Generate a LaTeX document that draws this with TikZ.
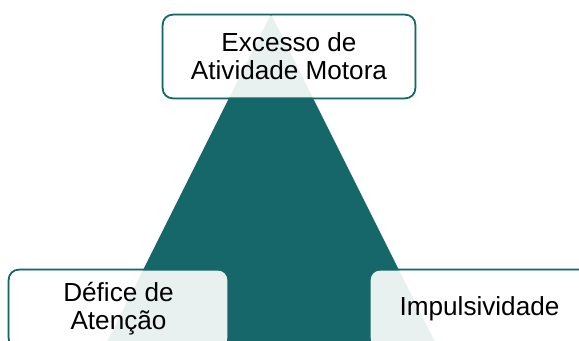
\documentclass[tikz,border=0pt]{standalone}
\usepackage{fontspec}
\setmainfont{Liberation Sans}

\definecolor{tealdark}{RGB}{21,103,106}

\pgfdeclarelayer{frame}
\pgfdeclarelayer{wedge}
\pgfdeclarelayer{veil}
\pgfsetlayers{frame,wedge,veil,main}

\begin{document}
\begin{tikzpicture}[x=0.75pt, y=-0.75pt,
% node style
box/.style={rectangle, inner sep=0pt, align=center, font=\fontsize{19.6}{21}\selectfont},
rim/.style={draw=tealdark, line width=1.5pt, rounded corners=7.5pt},
veil/.style={fill=white, fill opacity=0.9, rounded corners=6.75pt}
]

\useasboundingbox (0,0) rectangle (579,340);

% nodes
\node[box, minimum width=189pt, minimum height=62.25pt] (motora) at (289,56.5) {Excesso de\\Atividade Motora};
\node[box, minimum width=164.25pt, minimum height=58.5pt] (atencao) at (118.5,309) {Défice de\\Atenção};
\node[box, minimum width=164.25pt, minimum height=58.5pt] (impuls) at (479.5,309) {Impulsividade};

% box outlines (under the triangle)
\begin{pgfonlayer}{frame}
\foreach \n in {motora,atencao,impuls}
  \draw[rim] (\n.south west) rectangle (\n.north east);
\end{pgfonlayer}

% triangle
\begin{pgfonlayer}{wedge}
\coordinate (apex) at (271,14);
\coordinate (base_l) at (98,360);
\coordinate (base_r) at (444,360);
\fill[tealdark] (apex) -- (base_r) -- (base_l) -- cycle;
\end{pgfonlayer}

% light fill over the triangle
\begin{pgfonlayer}{veil}
\foreach \n in {motora,atencao,impuls}
  \fill[veil] ([xshift=0.75pt,yshift=0.75pt]\n.south west) rectangle ([xshift=-0.75pt,yshift=-0.75pt]\n.north east);
\end{pgfonlayer}

\end{tikzpicture}
\end{document}
